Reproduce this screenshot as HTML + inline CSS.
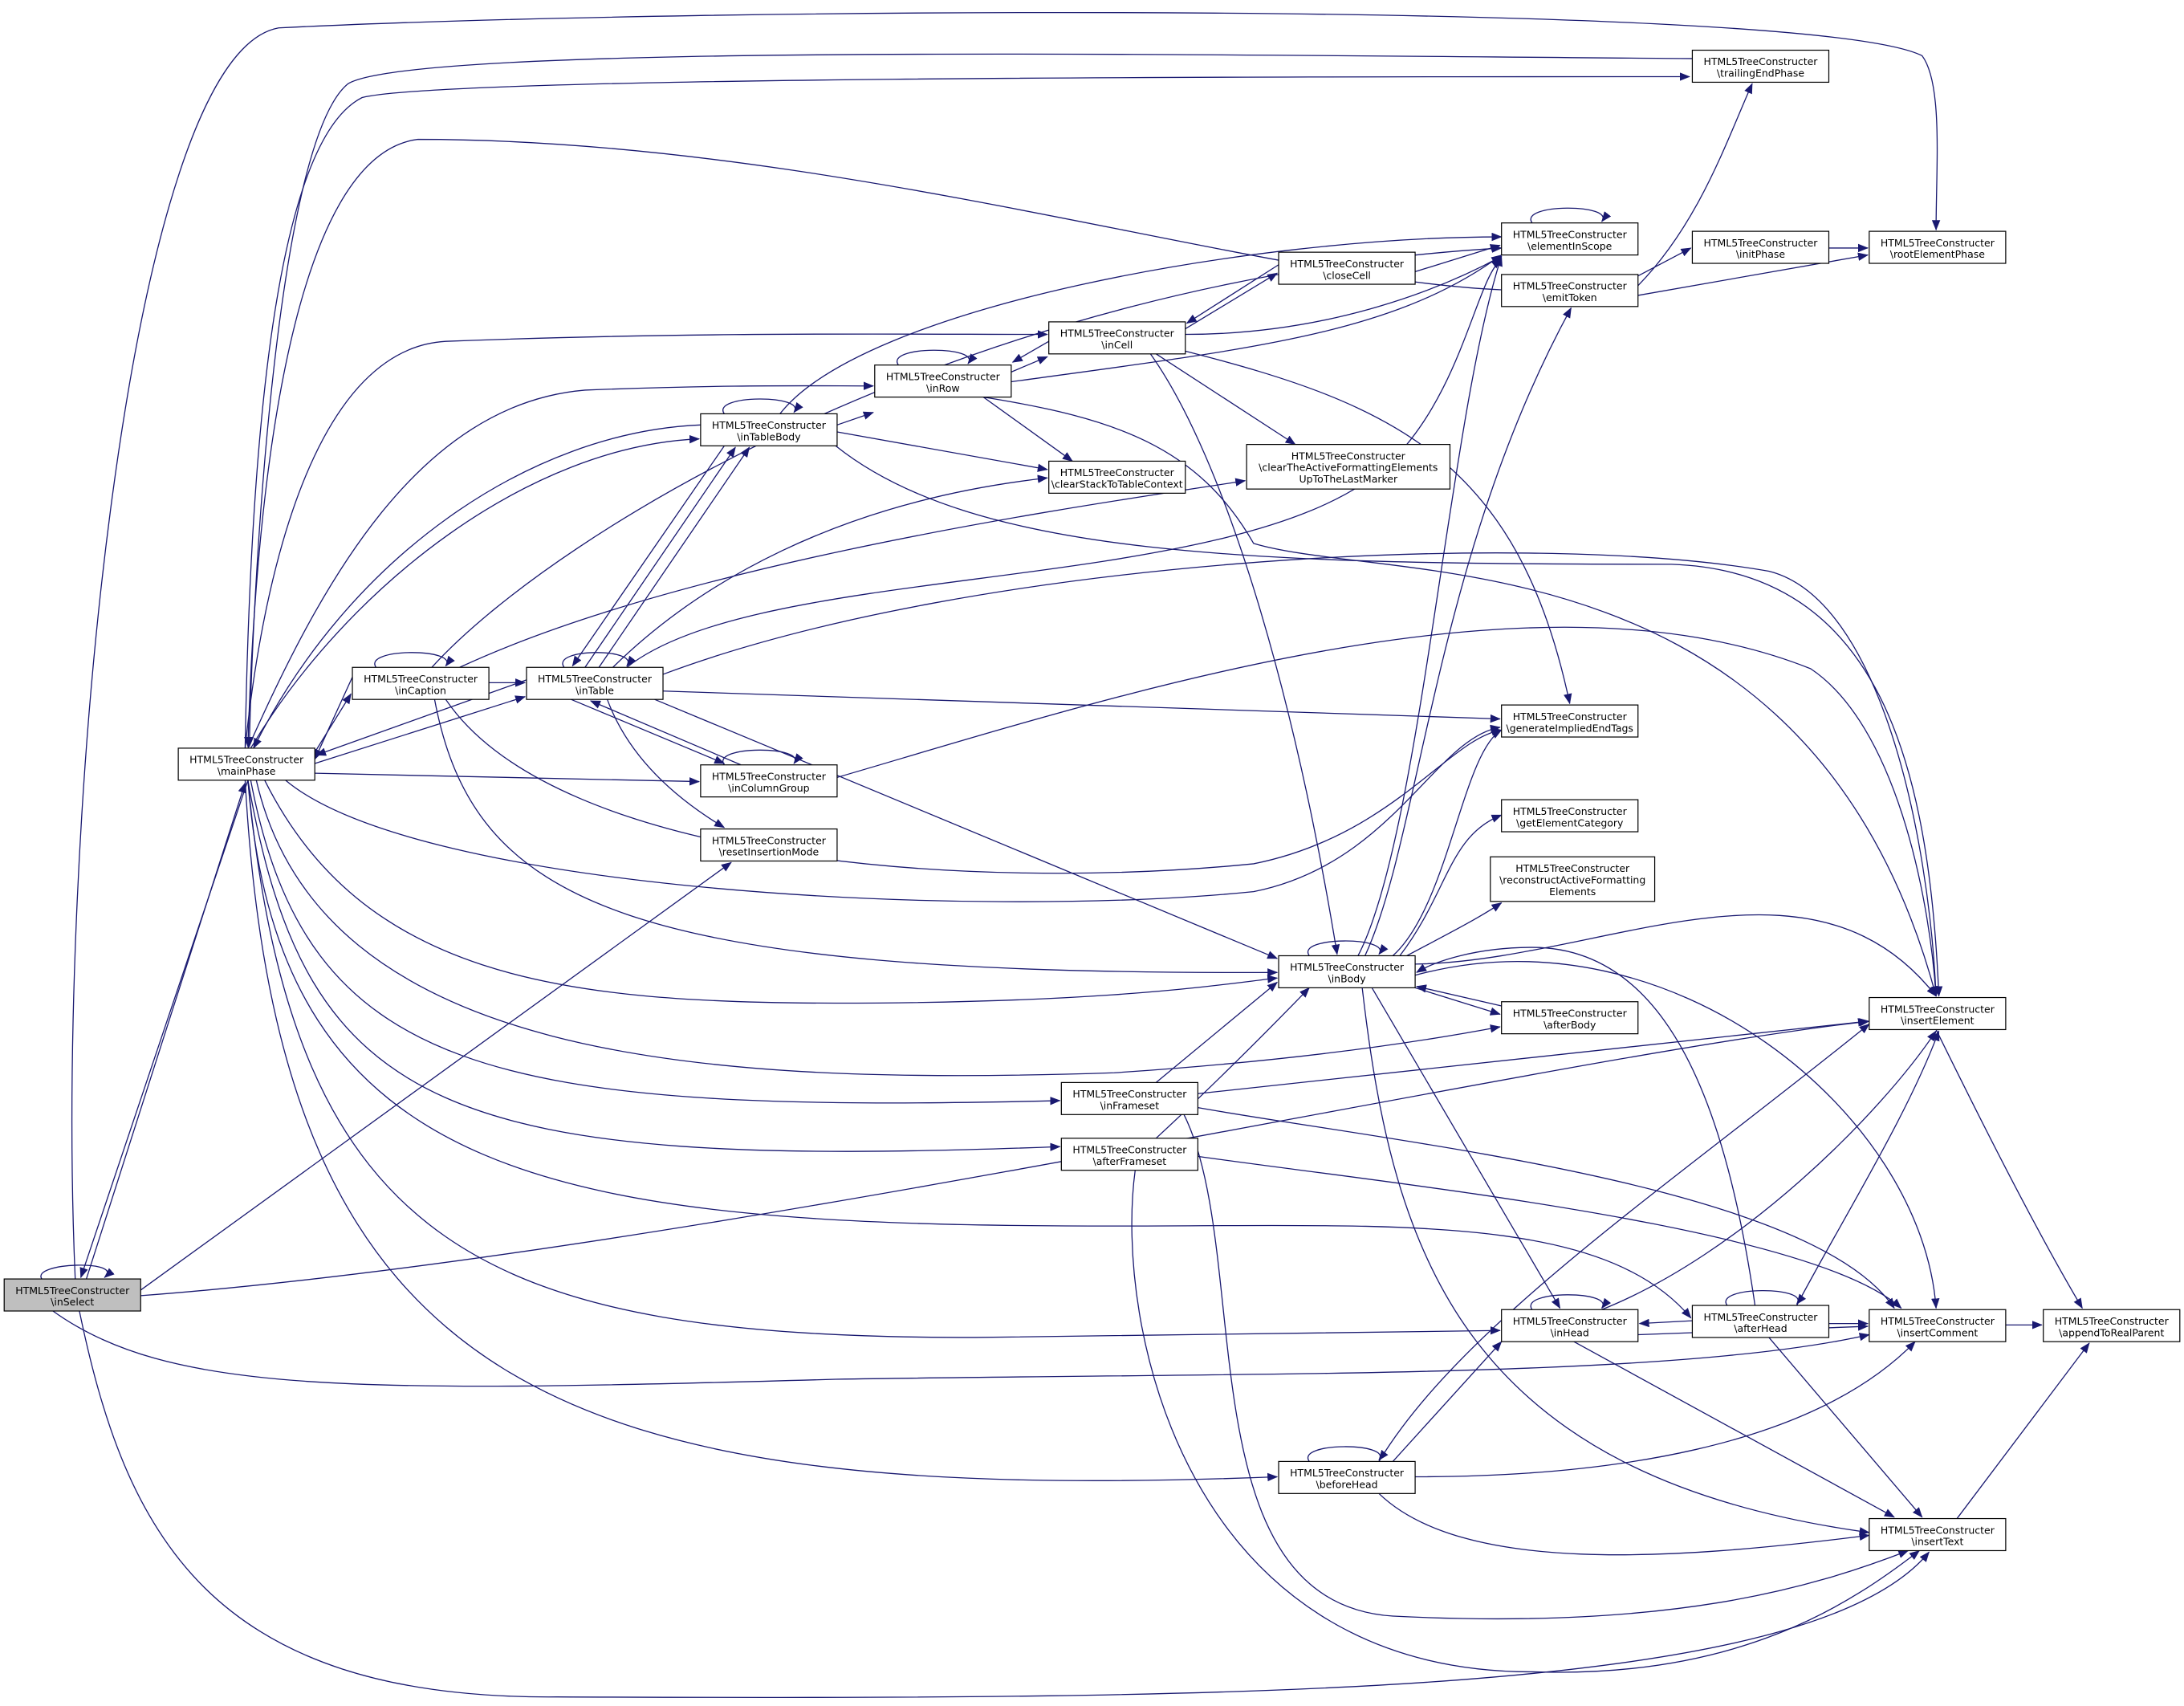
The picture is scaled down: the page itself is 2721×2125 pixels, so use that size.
<!DOCTYPE html>
<html><head><meta charset="utf-8"><style>
html,body{margin:0;padding:0;background:#fff;}
svg{display:block;}
text{font-family:"DejaVu Sans","Liberation Sans",sans-serif;font-size:7.2px;fill:#000;text-anchor:middle;}
.e{fill:none;stroke:#191970;stroke-width:0.75;}
.n{fill:#fff;stroke:#000;stroke-width:0.7;}
</style></head><body>
<svg width="2721" height="2125" viewBox="0 0 1568 1224.5" xmlns="http://www.w3.org/2000/svg">
<defs><marker id="a" markerUnits="userSpaceOnUse" markerWidth="8" markerHeight="6" refX="7" refY="3" orient="auto"><path d="M0,0 L7.5,3 L0,6 z" fill="#191970"/></marker></defs>
<g class="e" marker-end="url(#a)">
<!-- inSelect -->
<path d="M62 918 L176 562"/>
<path d="M178 560 L58 917"/>
<path d="M30 918 C22 906 90 904 75 917"/>
<path d="M101 926 L525 619"/>
<path d="M101 930 C500 900 1100 760 1342 733"/>
<path d="M38 941 C120 1000 250 1000 600 990 C900 985 1200 990 1342 958"/>
<path d="M57 941 C90 1100 150 1220 400 1218 C900 1220 1300 1218 1385 1114"/>
<path d="M54 918 C40 600 90 40 200 20 C500 5 1300 0 1380 40 C1395 60 1390 120 1390 165"/>
<!-- mainPhase to/from top -->
<path d="M1215 42 C900 40 300 30 250 60 C200 100 182 400 179 536"/>
<path d="M176 537 C180 300 200 100 260 70 C320 55 900 55 1213 55"/>
<path d="M1078 208 C900 200 600 100 300 100 C220 110 185 300 178 536"/>
<path d="M176 537 C190 400 230 250 320 245 C500 238 650 240 752 240"/>
<path d="M178 537 C230 420 300 290 420 280 C520 276 580 277 627 277"/>
<path d="M180 537 C250 420 380 320 502 315"/>
<path d="M503 305 C380 310 250 400 182 537"/>
<path d="M378 488 L227 542"/>
<path d="M226 548 L377 500"/>
<path d="M253 486 L226 545"/>
<path d="M226 540 L252 498"/>
<path d="M226 555 L502 561"/>
<path d="M205 560 C300 640 700 660 900 640 C1000 620 1030 530 1077 522"/>
<path d="M190 560 C260 700 400 720 600 720 C800 720 880 706 917 702"/>
<path d="M184 560 C230 760 500 780 800 770 C950 760 1040 744 1077 737"/>
<path d="M180 560 C220 770 350 800 761 790"/>
<path d="M178 560 C220 800 320 840 761 823"/>
<path d="M178 560 C200 850 400 880 800 880 C1000 880 1150 870 1214 946"/>
<path d="M178 560 C210 900 350 960 700 960 C900 958 1000 955 1077 955"/>
<path d="M176 560 C200 1000 400 1080 917 1060"/>
<!-- inCaption -->
<path d="M270 479 C260 465 330 465 320 478"/>
<path d="M351 490 L377 490"/>
<path d="M310 479 C400 380 700 200 1078 178"/>
<path d="M330 479 C500 400 800 360 894 345"/>
<path d="M320 502 C400 620 700 640 900 620 C1000 600 1040 530 1078 524"/>
<path d="M312 502 C340 650 450 700 917 698"/>
<!-- inTable -->
<path d="M405 479 C395 465 460 465 450 478"/>
<path d="M420 479 L528 321"/>
<path d="M430 479 L538 321"/>
<path d="M520 320 L411 478"/>
<path d="M410 502 L520 548"/>
<path d="M532 549 L424 503"/>
<path d="M436 502 C450 540 480 570 520 594"/>
<path d="M440 479 C500 420 600 360 752 343"/>
<path d="M450 479 C550 400 900 430 1000 330 C1050 280 1060 200 1078 186"/>
<path d="M476 484 C700 400 1100 380 1270 410 C1350 430 1385 600 1390 715"/>
<path d="M476 496 L1077 516"/>
<path d="M470 502 L917 688"/>
<!-- inTableBody -->
<path d="M520 297 C510 283 580 283 570 296"/>
<path d="M601 305 L627 296"/>
<path d="M601 310 L752 337"/>
<path d="M560 297 C620 220 900 170 1078 170"/>
<path d="M600 320 C700 400 900 405 1200 405 C1350 410 1385 550 1392 715"/>
<!-- inRow -->
<path d="M645 262 C635 248 705 248 695 261"/>
<path d="M726 267 L752 256"/>
<path d="M753 245 L727 260"/>
<path d="M706 285 L770 331"/>
<path d="M726 274 C900 250 1000 240 1078 183"/>
<path d="M706 285 C800 300 860 320 900 390 C1000 420 1300 380 1390 715"/>
<!-- inCell -->
<path d="M851 236 L917 196"/>
<path d="M918 190 L852 232"/>
<path d="M851 240 C950 240 1030 210 1078 184"/>
<path d="M830 254 L930 319"/>
<path d="M851 252 C1000 290 1090 330 1127 505"/>
<path d="M826 254 C880 330 930 500 960 685"/>
<path d="M1016 195 L1077 176"/>
<!-- inColumnGroup -->
<path d="M520 549 C510 535 580 535 570 548"/>
<path d="M601 558 C800 500 1100 400 1300 480 C1360 520 1385 640 1390 715"/>
<!-- inBody -->
<path d="M940 686 C930 672 1000 672 990 685"/>
<path d="M980 686 C1020 600 1030 400 1128 221"/>
<path d="M975 686 C1020 600 1040 300 1078 184"/>
<path d="M1000 686 C1040 650 1050 540 1078 524"/>
<path d="M1005 686 C1040 640 1040 600 1078 585"/>
<path d="M1010 686 C1040 670 1060 660 1078 648"/>
<path d="M1016 709 L1077 728"/>
<path d="M1078 722 L1017 708"/>
<path d="M1016 692 C1150 690 1300 600 1390 715"/>
<path d="M1016 700 C1200 650 1380 800 1390 939"/>
<path d="M985 709 L1120 939"/>
<path d="M978 709 C1000 900 1050 1060 1342 1100"/>
<!-- inFrameset / afterFrameset -->
<path d="M830 777 L917 705"/>
<path d="M860 785 L1341 733"/>
<path d="M860 795 C1000 820 1300 850 1360 939"/>
<path d="M850 800 C900 900 850 1150 1000 1160 C1200 1170 1300 1140 1370 1113"/>
<path d="M830 817 C870 780 910 740 940 709"/>
<path d="M860 830 C1000 850 1300 880 1365 939"/>
<path d="M815 840 C800 950 850 1200 1100 1200 C1250 1205 1330 1150 1378 1113"/>
<!-- beforeHead -->
<path d="M940 1049 C930 1035 1000 1035 990 1048"/>
<path d="M1000 1049 L1078 963"/>
<path d="M990 1049 C1050 950 1200 850 1342 735"/>
<path d="M1016 1060 C1150 1060 1300 1040 1375 963"/>
<path d="M990 1072 C1050 1130 1200 1120 1342 1102"/>
<!-- inHead / afterHead -->
<path d="M1100 940 C1090 926 1160 926 1150 939"/>
<path d="M1215 948 L1177 950"/>
<path d="M1176 958 L1341 952"/>
<path d="M1150 940 C1250 900 1350 800 1390 740"/>
<path d="M1130 963 L1360 1089"/>
<path d="M1240 937 C1230 923 1300 923 1290 936"/>
<path d="M1313 950 L1341 950"/>
<path d="M1290 937 C1320 880 1370 800 1392 740"/>
<path d="M1270 960 L1380 1089"/>
<path d="M1260 937 C1240 800 1200 680 1100 680 C1060 680 1030 690 1017 698"/>
<!-- insert* to append -->
<path d="M1390 739 C1420 800 1460 880 1495 939"/>
<path d="M1440 951 L1466 951"/>
<path d="M1405 1090 L1500 964"/>
<!-- emitToken, initPhase -->
<path d="M1176 205 C1220 160 1240 100 1258 60"/>
<path d="M1176 198 L1214 178"/>
<path d="M1176 212 L1341 183"/>
<path d="M1313 178 L1341 178"/>
<path d="M1100 160 C1090 146 1160 146 1150 159"/>
</g>
<g>
<rect class="n" x="3" y="918" width="98" height="23" style="fill:#bfbfbf"/><text x="52" y="928.8">HTML5TreeConstructer</text><text x="52" y="937.1">\inSelect</text>
<rect class="n" x="128" y="537" width="98" height="23"/><text x="177" y="547.8">HTML5TreeConstructer</text><text x="177" y="556.1">\mainPhase</text>
<rect class="n" x="253" y="479" width="98" height="23"/><text x="302" y="489.8">HTML5TreeConstructer</text><text x="302" y="498.1">\inCaption</text>
<rect class="n" x="378" y="479" width="98" height="23"/><text x="427" y="489.8">HTML5TreeConstructer</text><text x="427" y="498.1">\inTable</text>
<rect class="n" x="503" y="297" width="98" height="23"/><text x="552" y="307.8">HTML5TreeConstructer</text><text x="552" y="316.1">\inTableBody</text>
<rect class="n" x="503" y="549" width="98" height="23"/><text x="552" y="559.8">HTML5TreeConstructer</text><text x="552" y="568.1">\inColumnGroup</text>
<rect class="n" x="503" y="595" width="98" height="23"/><text x="552" y="605.8">HTML5TreeConstructer</text><text x="552" y="614.1">\resetInsertionMode</text>
<rect class="n" x="628" y="262" width="98" height="23"/><text x="677" y="272.8">HTML5TreeConstructer</text><text x="677" y="281.1">\inRow</text>
<rect class="n" x="753" y="231" width="98" height="23"/><text x="802" y="241.8">HTML5TreeConstructer</text><text x="802" y="250.1">\inCell</text>
<rect class="n" x="753" y="331" width="98" height="23"/><text x="802" y="341.8">HTML5TreeConstructer</text><text x="802" y="350.1">\clearStackToTableContext</text>
<rect class="n" x="918" y="181" width="98" height="23"/><text x="967" y="191.8">HTML5TreeConstructer</text><text x="967" y="200.1">\closeCell</text>
<rect class="n" x="895" y="319" width="146" height="32"/><text x="968" y="329.8">HTML5TreeConstructer</text><text x="968" y="338.1">\clearTheActiveFormattingElements</text><text x="968" y="346.4">UpToTheLastMarker</text>
<rect class="n" x="918" y="686" width="98" height="23"/><text x="967" y="696.8">HTML5TreeConstructer</text><text x="967" y="705.1">\inBody</text>
<rect class="n" x="762" y="777" width="98" height="23"/><text x="811" y="787.8">HTML5TreeConstructer</text><text x="811" y="796.1">\inFrameset</text>
<rect class="n" x="762" y="817" width="98" height="23"/><text x="811" y="827.8">HTML5TreeConstructer</text><text x="811" y="836.1">\afterFrameset</text>
<rect class="n" x="918" y="1049" width="98" height="23"/><text x="967" y="1059.8">HTML5TreeConstructer</text><text x="967" y="1068.1">\beforeHead</text>
<rect class="n" x="1078" y="160" width="98" height="23"/><text x="1127" y="170.8">HTML5TreeConstructer</text><text x="1127" y="179.1">\elementInScope</text>
<rect class="n" x="1078" y="197" width="98" height="23"/><text x="1127" y="207.8">HTML5TreeConstructer</text><text x="1127" y="216.1">\emitToken</text>
<rect class="n" x="1215" y="36" width="98" height="23"/><text x="1264" y="46.8">HTML5TreeConstructer</text><text x="1264" y="55.1">\trailingEndPhase</text>
<rect class="n" x="1215" y="166" width="98" height="23"/><text x="1264" y="176.8">HTML5TreeConstructer</text><text x="1264" y="185.1">\initPhase</text>
<rect class="n" x="1342" y="166" width="98" height="23"/><text x="1391" y="176.8">HTML5TreeConstructer</text><text x="1391" y="185.1">\rootElementPhase</text>
<rect class="n" x="1078" y="506" width="98" height="23"/><text x="1127" y="516.8">HTML5TreeConstructer</text><text x="1127" y="525.1">\generateImpliedEndTags</text>
<rect class="n" x="1078" y="574" width="98" height="23"/><text x="1127" y="584.8">HTML5TreeConstructer</text><text x="1127" y="593.1">\getElementCategory</text>
<rect class="n" x="1070" y="615" width="118" height="32"/><text x="1129" y="625.8">HTML5TreeConstructer</text><text x="1129" y="634.1">\reconstructActiveFormatting</text><text x="1129" y="642.4">Elements</text>
<rect class="n" x="1078" y="719" width="98" height="23"/><text x="1127" y="729.8">HTML5TreeConstructer</text><text x="1127" y="738.1">\afterBody</text>
<rect class="n" x="1078" y="940" width="98" height="23"/><text x="1127" y="950.8">HTML5TreeConstructer</text><text x="1127" y="959.1">\inHead</text>
<rect class="n" x="1215" y="937" width="98" height="23"/><text x="1264" y="947.8">HTML5TreeConstructer</text><text x="1264" y="956.1">\afterHead</text>
<rect class="n" x="1342" y="716" width="98" height="23"/><text x="1391" y="726.8">HTML5TreeConstructer</text><text x="1391" y="735.1">\insertElement</text>
<rect class="n" x="1342" y="940" width="98" height="23"/><text x="1391" y="950.8">HTML5TreeConstructer</text><text x="1391" y="959.1">\insertComment</text>
<rect class="n" x="1467" y="940" width="98" height="23"/><text x="1516" y="950.8">HTML5TreeConstructer</text><text x="1516" y="959.1">\appendToRealParent</text>
<rect class="n" x="1342" y="1090" width="98" height="23"/><text x="1391" y="1100.8">HTML5TreeConstructer</text><text x="1391" y="1109.1">\insertText</text>
</g>
</svg>
</body></html>
